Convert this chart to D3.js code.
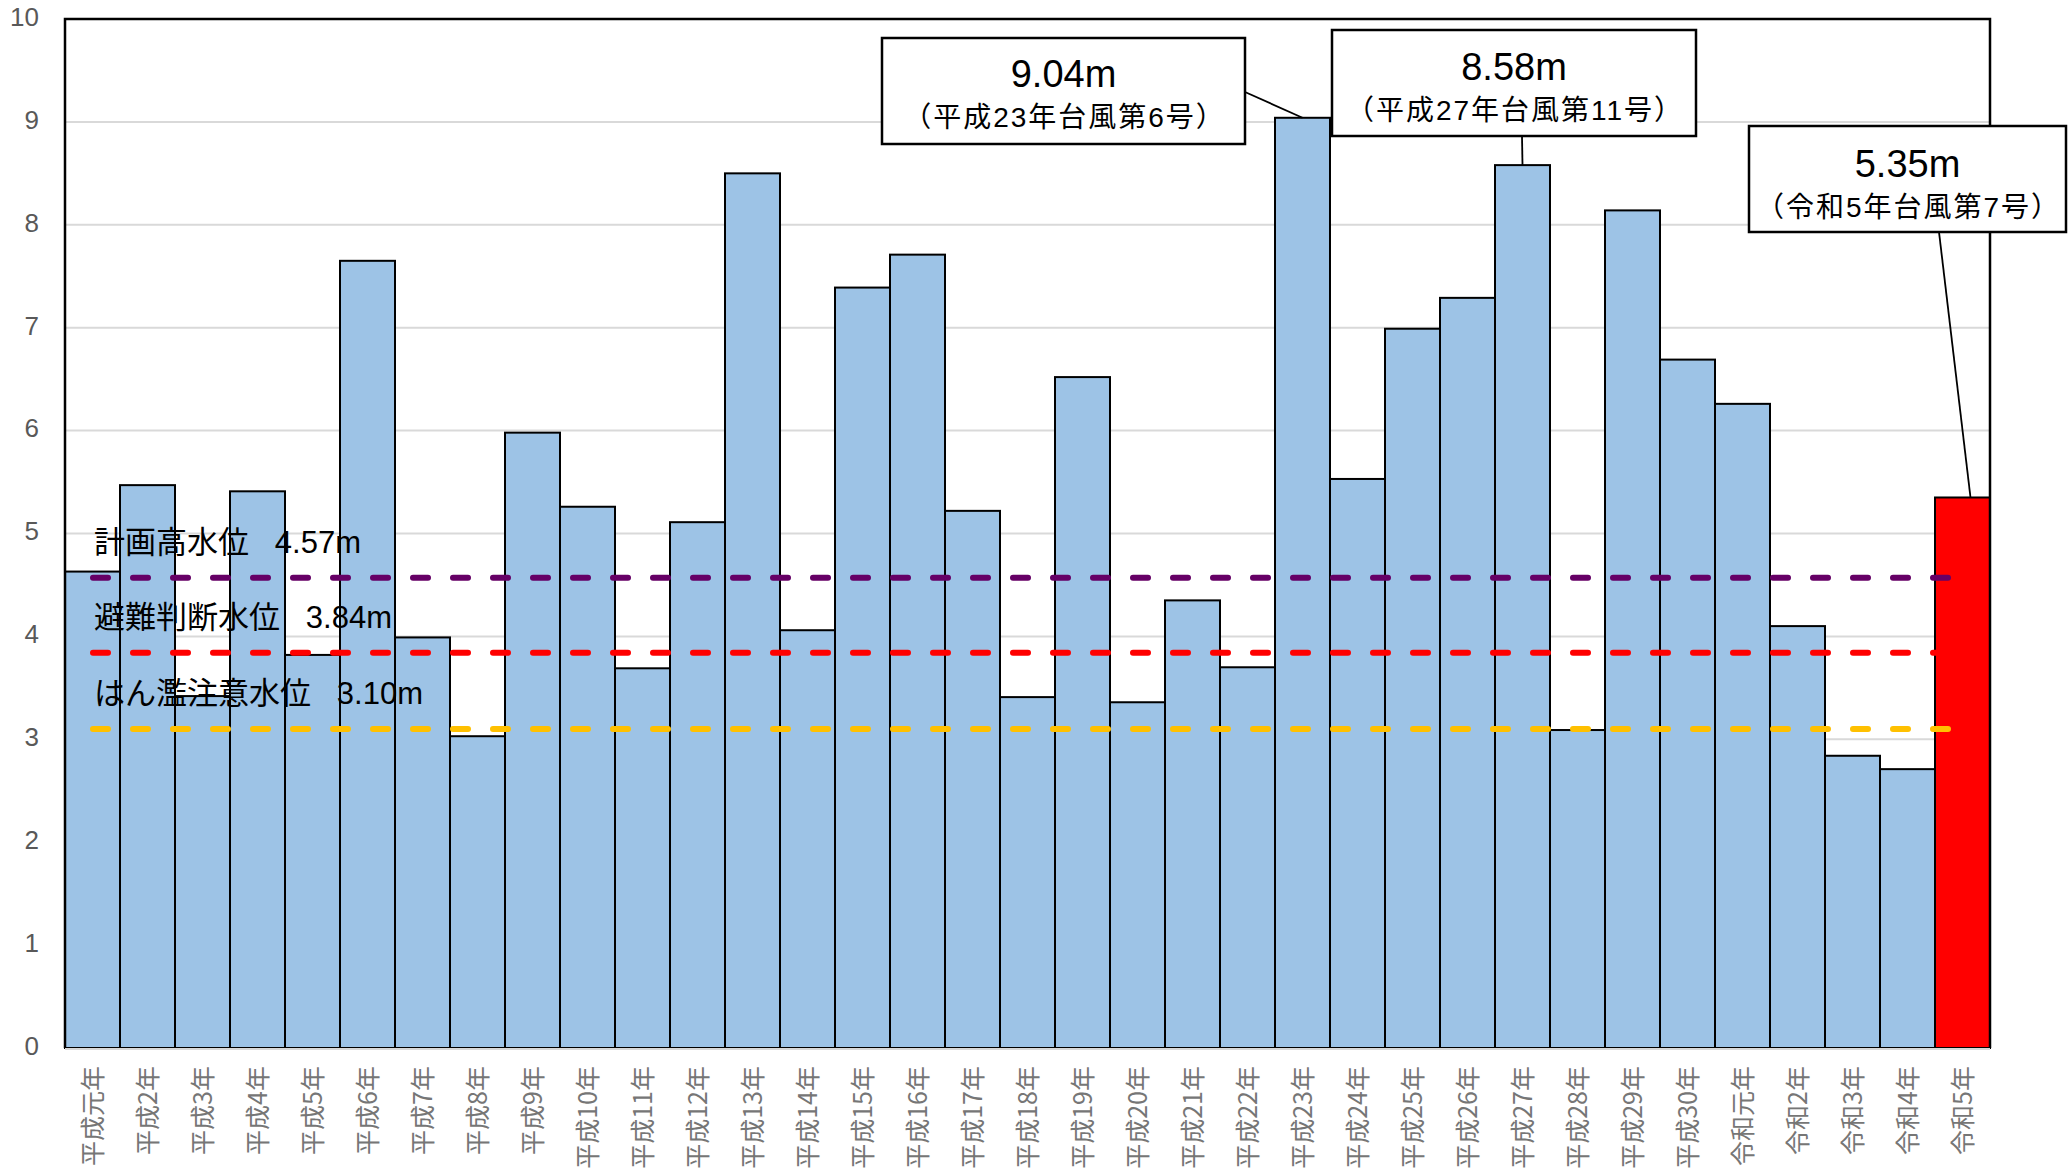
<!DOCTYPE html>
<html>
<head>
<meta charset="utf-8">
<script src="https://cdn.jsdelivr.net/npm/d3@7"></script>
<style>
  body { margin: 0; background: #fff; }
  text { font-family: "Liberation Sans", "Noto Sans CJK JP", sans-serif; }
</style>
</head>
<body>
<div id="chart"></div>
<script>
// 年ごとの最高水位 (m)
const years = ['平成元年', '平成2年', '平成3年', '平成4年', '平成5年', '平成6年', '平成7年', '平成8年', '平成9年', '平成10年',
  '平成11年', '平成12年', '平成13年', '平成14年', '平成15年', '平成16年', '平成17年', '平成18年', '平成19年', '平成20年',
  '平成21年', '平成22年', '平成23年', '平成24年', '平成25年', '平成26年', '平成27年', '平成28年', '平成29年', '平成30年',
  '令和元年', '令和2年', '令和3年', '令和4年', '令和5年']
const levels = [4.63, 5.47, 3.42, 5.41, 3.82, 7.65, 3.99, 3.03, 5.98, 5.26,
  3.69, 5.11, 8.50, 4.06, 7.39, 7.71, 5.22, 3.41, 6.52, 3.36,
  4.35, 3.70, 9.04, 5.53, 6.99, 7.29, 8.58, 3.09, 8.14, 6.69,
  6.26, 4.10, 2.84, 2.71, 5.35]
const yTicks = [0, 1, 2, 3, 4, 5, 6, 7, 8, 9, 10]

// 基準水位
const refNames = ['計画高水位', '避難判断水位', 'はん濫注意水位']
const refValues = [4.57, 3.84, 3.10]
const refColors = ['#660066', '#ff0000', '#ffc000']

// 吹き出し
const noteYears = ['平成23年', '平成27年', '令和5年']
const noteTitles = ['9.04m', '8.58m', '5.35m']
const noteSubs = ['（平成23年台風第6号）', '（平成27年台風第11号）', '（令和5年台風第7号）']

const W = 2069, H = 1173
const plotL = 65, plotR = 1990, plotT = 19, plotB = 1048

const svg = d3.select('#chart').append('svg')
  .attr('width', W)
  .attr('height', H)

const x = d3.scaleBand().domain(years).range([plotL, plotR]).padding(0)
const y = d3.scaleLinear().domain([0, 10]).range([plotB, plotT])

// gridlines
svg.append('g')
  .selectAll('line')
  .data(yTicks.slice(1, -1))
  .join('line')
  .attr('x1', plotL).attr('x2', plotR)
  .attr('y1', d => y(d)).attr('y2', d => y(d))
  .style('stroke', '#d9d9d9')
  .style('stroke-width', 2)

// y labels
svg.append('g')
  .selectAll('text')
  .data(yTicks)
  .join('text')
  .attr('x', 39)
  .attr('y', d => y(d))
  .attr('text-anchor', 'end')
  .attr('dominant-baseline', 'middle')
  .style('font-size', '26px')
  .style('fill', '#595959')
  .text(d => d)

// bars
svg.append('g')
  .selectAll('rect')
  .data(levels)
  .join('rect')
  .attr('x', (d, i) => x(years[i]))
  .attr('y', d => y(d))
  .attr('width', x.bandwidth())
  .attr('height', d => y(0) - y(d))
  .style('fill', (d, i) => i == levels.length - 1 ? '#ff0000' : '#9dc3e6')
  .style('stroke', '#000')
  .style('stroke-width', 2)

// x labels (rotated)
svg.append('g')
  .selectAll('text')
  .data(years)
  .join('text')
  .attr('transform', d => 'translate(' + (x(d) + x.bandwidth() / 2 + 9) + ',' + (plotB + 18) + ') rotate(-90)')
  .attr('text-anchor', 'end')
  .style('font-size', '25px')
  .style('font-family', '"Noto Sans CJK JP", sans-serif')
  .style('fill', '#767676')
  .text(d => d)

// frame: black on 3 sides, light gray bottom
svg.append('path')
  .attr('d', 'M' + plotL + ',' + plotB + 'V' + plotT + 'H' + plotR + 'V' + plotB)
  .style('fill', 'none')
  .style('stroke', '#000')
  .style('stroke-width', 2.5)
svg.append('line')
  .attr('x1', plotL).attr('x2', plotR)
  .attr('y1', plotB + 1).attr('y2', plotB + 1)
  .style('stroke', '#d9d9d9')
  .style('stroke-width', 2)

// reference lines
const refG = svg.append('g')
refG.selectAll('line')
  .data(refValues)
  .join('line')
  .attr('x1', 93).attr('x2', x(years[years.length - 1]) + x.bandwidth() / 2 + 6)
  .attr('y1', d => y(d)).attr('y2', d => y(d))
  .style('stroke', (d, i) => refColors[i])
  .style('stroke-width', 6)
  .style('stroke-linecap', 'round')
  .style('stroke-dasharray', '15 25')

refG.selectAll('text')
  .data(refValues)
  .join('text')
  .attr('x', 94)
  .attr('y', d => y(d) - 25)
  .style('font-size', '31px')
  .style('white-space', 'pre')
  .style('fill', '#000')
  .text((d, i) => refNames[i] + '   ' + d.toFixed(2) + 'm')

// annotation boxes: [x, y, w, h] in px, title baseline offset
const boxes = [[882, 38, 363, 106, 49], [1332, 30, 364, 106, 50], [1749, 126, 317, 106, 51]]
// where the leader line leaves the box
const leaderFrom = [[1245, 92], [1522, 136], [1939, 232]]
const leaderDx = [0, 0, 8]

const notes = svg.append('g')
noteYears.forEach((yr, i) => {
  const b = boxes[i]
  const v = levels[years.indexOf(yr)]
  notes.append('line')
    .attr('x1', leaderFrom[i][0]).attr('y1', leaderFrom[i][1])
    .attr('x2', x(yr) + x.bandwidth() / 2 + leaderDx[i]).attr('y2', y(v))
    .style('stroke', '#000')
    .style('stroke-width', 1.8)
  notes.append('rect')
    .attr('x', b[0]).attr('y', b[1])
    .attr('width', b[2]).attr('height', b[3])
    .style('fill', '#fff')
    .style('stroke', '#000')
    .style('stroke-width', 2.5)
  notes.append('text')
    .attr('x', b[0] + b[2] / 2)
    .attr('y', b[1] + b[4])
    .attr('text-anchor', 'middle')
    .style('font-size', '38px')
    .text(noteTitles[i])
  notes.append('text')
    .attr('x', b[0] + b[2] / 2 + 1)
    .attr('y', b[1] + b[4] + 40)
    .attr('text-anchor', 'middle')
    .style('font-size', '28px')
    .style('letter-spacing', '2px')
    .text(noteSubs[i])
})
</script>
</body>
</html>
